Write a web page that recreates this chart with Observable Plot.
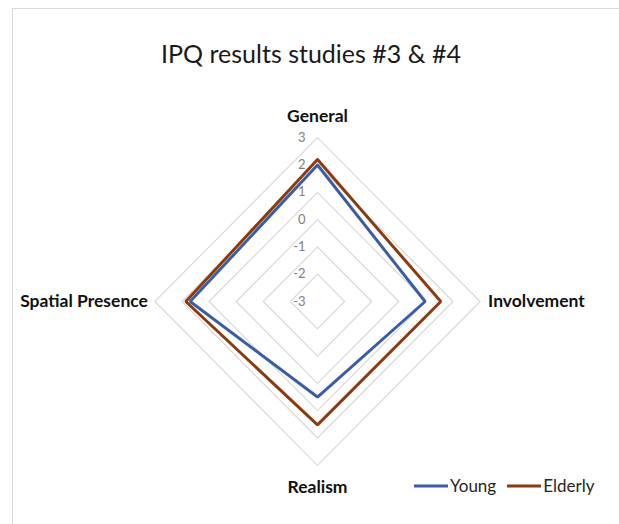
<!DOCTYPE html>
<html>
<head>
<meta charset="utf-8">
<script src="https://cdn.jsdelivr.net/npm/d3@7"></script>
<script src="https://cdn.jsdelivr.net/npm/@observablehq/plot@0.6"></script>
<style>
  body { margin: 0; background: #fff; }
  #wrap { position: relative; width: 619px; height: 524px; overflow: hidden; font-family: Lato, "Open Sans", sans-serif; }
  #frame { position: absolute; left: 12px; top: 8px; width: 700px; height: 600px; border-left: 1px solid #d9d9d9; border-top: 1px solid #d9d9d9; }
  #title { position: absolute; left: 0; width: 622px; top: 38px; text-align: center; font-size: 25px; color: #1a1a1a; }
  #chart { position: absolute; left: 0; top: 0; }
  #legend { position: absolute; left: 414px; top: 475px; font-size: 17px; color: #262626; display: flex; align-items: center; }
  #legend span.item { display: inline-flex; align-items: center; margin-right: 11px; }
  #legend svg { margin-right: 2px; }
</style>
</head>
<body>
<div id="wrap">
  <div id="frame"></div>
  <div id="chart"></div>
  <div id="title">IPQ results studies #3 &amp; #4</div>
  <div id="legend"></div>
</div>
<script>
const axes = ["General", "Involvement", "Realism", "Spatial Presence"];
const young = [2.0, 0.97, 0.5, 1.7];
const elderly = [2.2, 1.55, 1.52, 1.86];
const tickValues = [-3, -2, -1, 0, 1, 2, 3];
const seriesNames = ["Young", "Elderly"];
const seriesColors = ["#3a5da4", "#8a3c0e"];

const minV = -3;
// axis direction unit vectors: top, right, bottom, left
const dirs = [[0, 1], [1, 0], [0, -1], [-1, 0]];
const toXY = (v, i) => ({x: dirs[i][0] * (v - minV), y: dirs[i][1] * (v - minV)});

const rings = [];
tickValues.filter(t => t > minV).forEach(t => {
  [0, 1, 2, 3, 0].forEach((i, k) => rings.push({t, k, ...toXY(t, i)}));
});

const series = [];
[young, elderly].forEach((vals, s) => {
  [0, 1, 2, 3, 0].forEach((i, k) => series.push({name: seriesNames[s], k, ...toXY(vals[i], i)}));
});

const tickData = tickValues.map(t => ({t, x: 0, y: t - minV}));
const R = 3 - minV;
const axisLabels = axes.map((a, i) => ({label: a, ...toXY(3, i), i}));

const cx = 317, cy = 301, ux = 27.1, uy = 27.3;
const lab = {fontWeight: "bold", fontSize: 17.5, fill: "#111"};
const chart = Plot.plot({
  width: 619,
  height: 524,
  margin: 0,
  x: {type: "linear", domain: [-R, R], range: [cx - R * ux, cx + R * ux], axis: null},
  y: {type: "linear", domain: [-R, R], range: [cy + R * uy, cy - R * uy], axis: null},
  color: {domain: seriesNames, range: seriesColors},
  style: {fontFamily: "Lato, 'Open Sans', sans-serif", background: "transparent"},
  marks: [
    Plot.line(rings, {x: "x", y: "y", z: "t", stroke: "#d9d9d9", strokeWidth: 1.2}),
    Plot.text(tickData, {x: "x", y: "y", text: d => String(d.t), textAnchor: "end", dx: -12, fill: "#7f7f7f", fontSize: 13}),
    Plot.line(series, {x: "x", y: "y", z: "name", stroke: "name", strokeWidth: 3, strokeLinejoin: "miter"}),
    Plot.text(axisLabels.filter(d => d.i === 0), {x: "x", y: "y", text: "label", dy: -21, ...lab}),
    Plot.text(axisLabels.filter(d => d.i === 1), {x: "x", y: "y", text: "label", dx: 8, textAnchor: "start", ...lab}),
    Plot.text(axisLabels.filter(d => d.i === 2), {x: "x", y: "y", text: "label", dy: 22, ...lab}),
    Plot.text(axisLabels.filter(d => d.i === 3), {x: "x", y: "y", text: "label", dx: -7, textAnchor: "end", ...lab})
  ]
});
document.getElementById("chart").appendChild(chart);

const legend = document.getElementById("legend");
seriesNames.forEach((n, i) => {
  const item = document.createElement("span");
  item.className = "item";
  item.innerHTML = `<svg width="34" height="6"><line x1="0" y1="3" x2="34" y2="3" stroke="${seriesColors[i]}" stroke-width="3"/></svg>${n}`;
  legend.appendChild(item);
});
</script>
</body>
</html>
